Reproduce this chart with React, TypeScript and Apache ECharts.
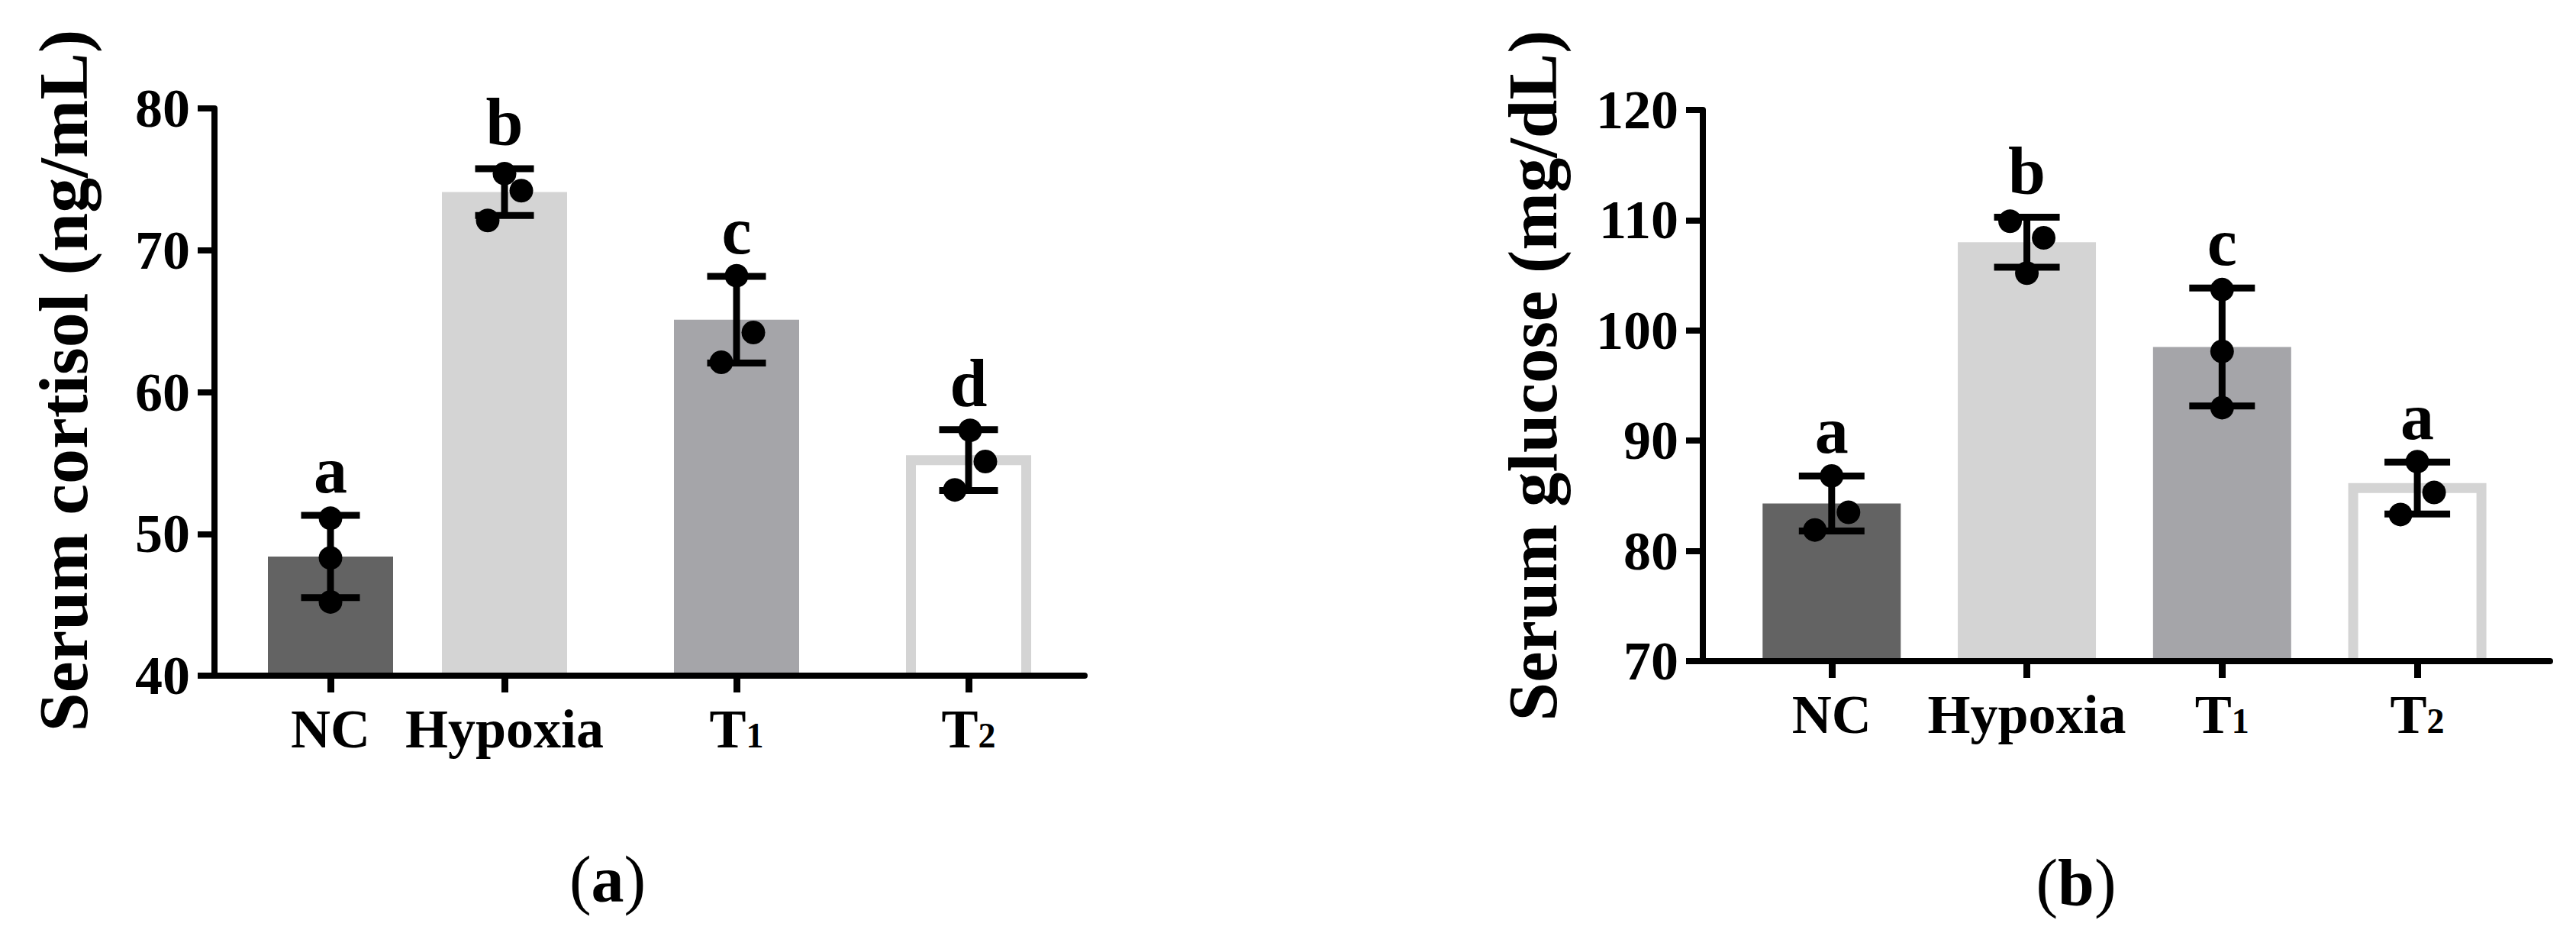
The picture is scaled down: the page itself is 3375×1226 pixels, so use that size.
import React, { useEffect, useRef } from "react";
import * as echarts from "echarts";

// ---------- data ----------
const groups = ["NC", "Hypoxia", "T1", "T2"];
const groupLabels = ["NC", "Hypoxia", "{t|T}{s|1}", "{t|T}{s|2}"];

const cortisolMean = [48.4, 74.1, 65.1, 55.2];
const cortisolSD = [2.9, 1.65, 3.05, 2.15];
const cortisolLetters = ["a", "b", "c", "d"];
const cortisolPoints = [
  [51.1, 48.3, 45.2],
  [75.4, 74.2, 72.1],
  [68.2, 64.2, 62.1],
  [57.3, 55.1, 53.1],
];
const cortisolTicks = { min: 40, max: 80, interval: 10 };

const glucoseMean = [84.3, 108.0, 98.5, 85.7];
const glucoseSD = [2.5, 2.27, 5.35, 2.35];
const glucoseLetters = ["a", "b", "c", "a"];
const glucosePoints = [
  [86.8, 83.5, 81.9],
  [109.9, 108.4, 105.2],
  [103.7, 98.1, 93.0],
  [88.1, 85.3, 83.3],
];
const glucoseTicks = { min: 70, max: 120, interval: 10 };

// ---------- layout / style ----------
const cortisolSlots = [0, 0.75, 1.75, 2.75];
const glucoseSlots = [0, 1, 2, 3];
const cortisolJitter = [
  [0, 0, 0],
  [0, 22, -22],
  [0, 22, -20],
  [2, 22, -18],
];
const glucoseJitter = [
  [0, 22, -22],
  [-22, 22, 0],
  [0, 0, 0],
  [0, 22, -22],
];
const barFills = ["#636363", "#d4d4d4", "#a5a5a9", "#ffffff"];
const outlineColor = "#d4d4d4";
const FONT = "'Liberation Serif', 'Times New Roman', serif";

type Panel = {
  title: string;
  mean: number[];
  sd: number[];
  letters: string[];
  points: number[][];
  ticks: { min: number; max: number; interval: number };
  slots: number[];
  jitter: number[][];
  grid: { left: number; top: number; width: number; height: number };
  xMin: number;
  xMax: number;
  barW: number;
  capW: number;
  nameGap: number;
  nameSize: number;
  namePad: number[];
};

const panels: Panel[] = [
  {
    title: "Serum cortisol (ng/mL)",
    mean: cortisolMean,
    sd: cortisolSD,
    letters: cortisolLetters,
    points: cortisolPoints,
    ticks: cortisolTicks,
    slots: cortisolSlots,
    jitter: cortisolJitter,
    grid: { left: 281, top: 142, width: 1140, height: 743 },
    xMin: -0.5,
    xMax: 3.25,
    barW: 164,
    capW: 77,
    nameGap: 152,
    nameSize: 92,
    namePad: [0, 0, 0, 30],
  },
  {
    title: "Serum glucose (mg/dL)",
    mean: glucoseMean,
    sd: glucoseSD,
    letters: glucoseLetters,
    points: glucosePoints,
    ticks: glucoseTicks,
    slots: glucoseSlots,
    jitter: glucoseJitter,
    grid: { left: 2231, top: 144, width: 1110, height: 722 },
    xMin: -0.66,
    xMax: 3.68,
    barW: 181,
    capW: 86,
    nameGap: 177,
    nameSize: 91,
    namePad: [0, 0, 0, 26],
  },
];

function buildOption() {
  const grid: any[] = [];
  const xAxis: any[] = [];
  const yAxis: any[] = [];
  const series: any[] = [];

  panels.forEach((p, pi) => {
    grid.push({ ...p.grid, containLabel: false });
    xAxis.push({
      type: "value",
      gridIndex: pi,
      min: p.xMin,
      max: p.xMax,
      z: 10,
      splitLine: { show: false },
      axisLine: { show: true, onZero: false, lineStyle: { color: "#000", width: 8 } },
      axisTick: {
        show: true,
        customValues: p.slots,
        length: 22,
        lineStyle: { color: "#000", width: 9 },
      },
      axisLabel: {
        show: true,
        customValues: p.slots,
        margin: 34,
        color: "#000",
        fontSize: 72,
        fontWeight: "bold",
        fontFamily: FONT,
        formatter: (v: number) => {
          const i = p.slots.findIndex((s) => Math.abs(s - v) < 1e-6);
          return i >= 0 ? groupLabels[i] : "";
        },
        rich: {
          t: { fontSize: 72, fontWeight: "bold", fontFamily: FONT, color: "#000", verticalAlign: "bottom" },
          s: {
            fontSize: 46,
            fontWeight: "bold",
            fontFamily: FONT,
            color: "#000",
            verticalAlign: "bottom",
            padding: [0, 0, 5, 0],
          },
        },
      },
    });
    yAxis.push({
      type: "value",
      gridIndex: pi,
      min: p.ticks.min,
      max: p.ticks.max,
      interval: p.ticks.interval,
      z: 10,
      name: p.title,
      nameLocation: "middle",
      nameGap: p.nameGap,
      nameTextStyle: {
        fontSize: p.nameSize,
        fontWeight: "bold",
        fontFamily: FONT,
        color: "#000",
        padding: p.namePad,
      },
      splitLine: { show: false },
      axisLine: { show: true, onZero: false, lineStyle: { color: "#000", width: 8 } },
      axisTick: { show: true, length: 22, lineStyle: { color: "#000", width: 8 } },
      axisLabel: { margin: 32, color: "#000", fontSize: 72, fontWeight: "bold", fontFamily: FONT },
    });

    const yMin = p.ticks.min;
    series.push({
      type: "custom",
      xAxisIndex: pi,
      yAxisIndex: pi,
      z: 3,
      data: groups.map((_, i) => [p.slots[i], p.mean[i], p.sd[i]]),
      renderItem: (params: any, api: any) => {
        const i = params.dataIndex;
        const x = api.value(0);
        const m = api.value(1);
        const sd = api.value(2);
        const c = api.coord([x, m]);
        const b = api.coord([x, yMin]);
        const hi = api.coord([x, m + sd]);
        const lo = api.coord([x, m - sd]);
        const W = p.barW;
        const children: any[] = [];
        if (i === 3) {
          const bw = 13;
          const l = c[0] - (W - bw) / 2;
          const r = c[0] + (W - bw) / 2;
          children.push({
            type: "rect",
            shape: { x: l, y: c[1], width: r - l, height: b[1] - c[1] },
            style: { fill: barFills[i] },
          });
          children.push({
            type: "polyline",
            shape: { points: [[l, b[1]], [l, c[1]], [r, c[1]], [r, b[1]]] },
            style: { fill: "none", stroke: outlineColor, lineWidth: bw, lineJoin: "miter" },
          });
        } else {
          children.push({
            type: "rect",
            shape: { x: c[0] - W / 2, y: c[1], width: W, height: b[1] - c[1] },
            style: { fill: barFills[i] },
          });
        }
        const cw = p.capW;
        children.push({
          type: "line",
          shape: { x1: c[0], y1: hi[1], x2: c[0], y2: lo[1] },
          style: { stroke: "#000", lineWidth: 9 },
        });
        children.push({
          type: "line",
          shape: { x1: c[0] - cw / 2, y1: hi[1], x2: c[0] + cw / 2, y2: hi[1] },
          style: { stroke: "#000", lineWidth: 9 },
        });
        children.push({
          type: "line",
          shape: { x1: c[0] - cw / 2, y1: lo[1], x2: c[0] + cw / 2, y2: lo[1] },
          style: { stroke: "#000", lineWidth: 9 },
        });
        children.push({
          type: "text",
          x: c[0],
          y: hi[1] - 16,
          style: {
            text: p.letters[i],
            fontSize: 88,
            fontWeight: "bold",
            fontFamily: FONT,
            fill: "#000",
            align: "center",
            verticalAlign: "bottom",
          },
        });
        return { type: "group", children };
      },
    });

    const scatterData: any[] = [];
    p.points.forEach((arr, gi) => {
      arr.forEach((v, k) => {
        scatterData.push({ value: [p.slots[gi], v], symbolOffset: [p.jitter[gi][k], 0] });
      });
    });
    series.push({
      type: "scatter",
      xAxisIndex: pi,
      yAxisIndex: pi,
      z: 5,
      symbol: "circle",
      symbolSize: 31,
      itemStyle: { color: "#000", opacity: 1 },
      data: scatterData,
    });
  });

  const capRich = {
    p: { fontSize: 86, fontFamily: FONT, fontWeight: "normal", fill: "#000" },
    b: { fontSize: 86, fontFamily: FONT, fontWeight: "bold", fill: "#000" },
  };

  return {
    animation: false,
    backgroundColor: "#ffffff",
    grid,
    xAxis,
    yAxis,
    series,
    graphic: [
      {
        type: "text",
        x: 796,
        y: 1152,
        style: { text: "{p|(}{b|a}{p|)}", rich: capRich, align: "center", verticalAlign: "middle" },
      },
      {
        type: "text",
        x: 2720,
        y: 1156,
        style: { text: "{p|(}{b|b}{p|)}", rich: capRich, align: "center", verticalAlign: "middle" },
      },
    ],
  };
}

export default function App() {
  const ref = useRef<HTMLDivElement>(null);
  useEffect(() => {
    if (!ref.current) return;
    const chart = echarts.init(ref.current, undefined, { renderer: "svg" });
    chart.setOption(buildOption() as any);
    return () => chart.dispose();
  }, []);
  return (
    <div
      ref={ref}
      style={{ position: "absolute", left: 0, top: 0, width: 3375, height: 1226, background: "#fff" }}
    />
  );
}
